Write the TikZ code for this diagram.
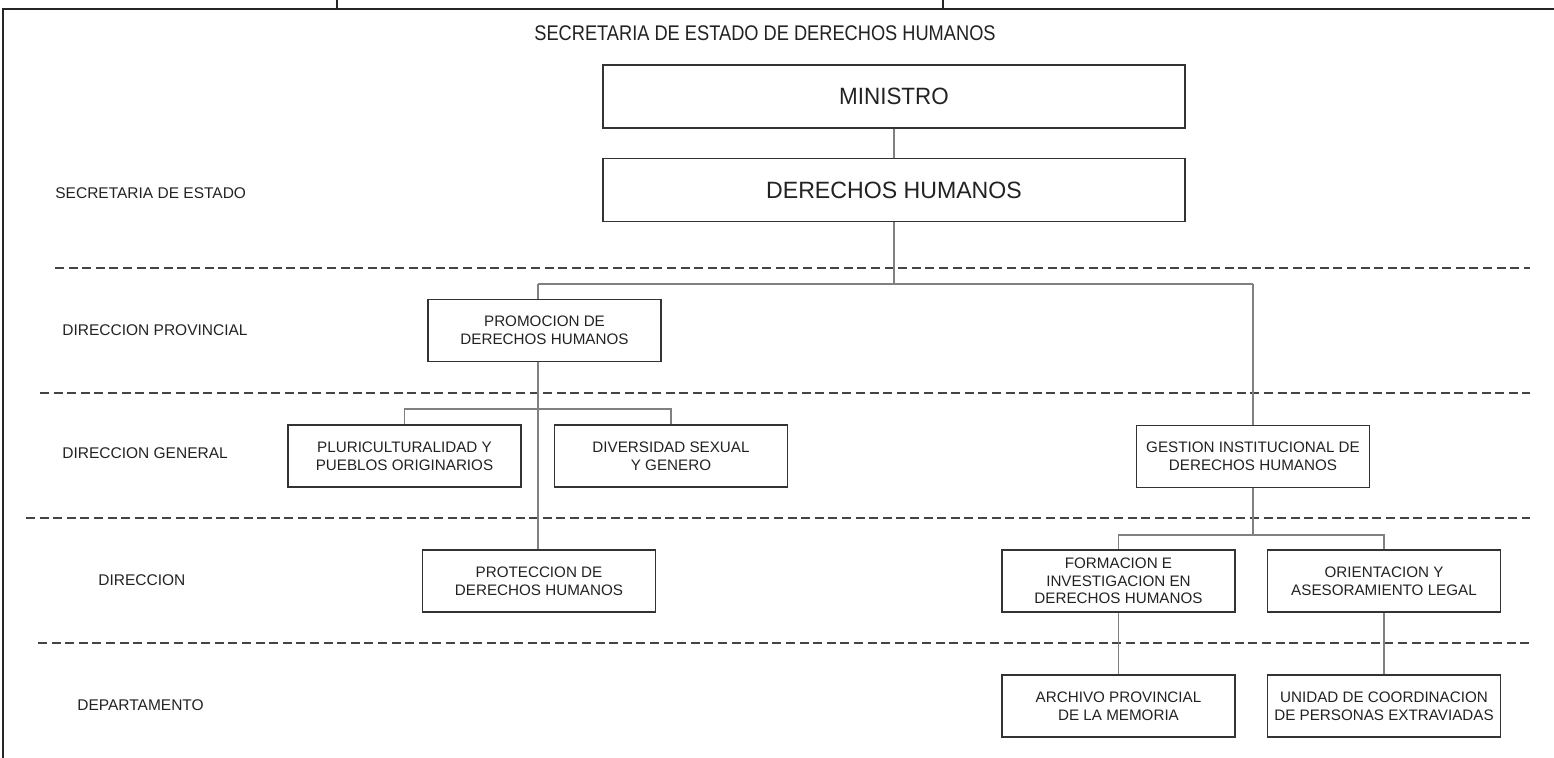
\documentclass[tikz,border=0pt]{standalone}
\usepackage{fontspec}
\setmainfont{Liberation Sans}
\newfontfamily\titlefont[FakeStretch=0.86]{Liberation Sans}
\newfontfamily\bigfont[FakeStretch=0.95]{Liberation Sans}
\newfontfamily\dhfont[FakeStretch=0.98]{Liberation Sans}
\definecolor{ink}{HTML}{222222}
\definecolor{boxc}{HTML}{333333}
\definecolor{conn}{HTML}{808080}
\definecolor{dashc}{HTML}{444444}
\tikzset{
  orgbox/.style={draw=boxc, line width=0.9pt, minimum width=116.5pt, minimum height=31pt,
    inner sep=0pt, align=center, text=ink, font=\fontsize{7.6}{8.8}\selectfont},
  bigbox/.style={draw=boxc, line width=0.9pt, minimum width=291pt, minimum height=31.5pt,
    inner sep=0pt, align=center, text=ink, font=\bigfont\fontsize{11.8}{13}\selectfont},
  levellabel/.style={anchor=west, inner sep=0pt, text=ink, font=\fontsize{7.75}{8.8}\selectfont},
  connector/.style={draw=conn, line width=0.55pt},
  levelline/.style={draw=dashc, line width=0.85pt, dash pattern=on 4.5pt off 2.3pt},
  frameline/.style={draw=black!85, line width=1pt}
}
\begin{document}
\begin{tikzpicture}[x=0.5pt, y=-0.5pt]
\useasboundingbox (0,0) rectangle (1554,758);
% frame
\coordinate (fTL) at (3,9);
\coordinate (fTR) at (1554,9);
\coordinate (fBL) at (3,758);
\coordinate (t1a) at (337,0);
\coordinate (t1b) at (337,9);
\coordinate (t2a) at (943,0);
\coordinate (t2b) at (943,9);
\draw[frameline] (fBL) -- (fTL) -- (fTR);
\draw[frameline] (t1a) -- (t1b);
\draw[frameline] (t2a) -- (t2b);
% title
\node[text=ink, inner sep=0pt, font=\titlefont\fontsize{10.6}{12}\selectfont] (title) at (765,33) {SECRETARIA DE ESTADO DE DERECHOS HUMANOS};
% level dashed lines
\coordinate (d1a) at (55,268);  \coordinate (d1b) at (1530,268);
\coordinate (d2a) at (40,393);  \coordinate (d2b) at (1530,393);
\coordinate (d3a) at (26,518);  \coordinate (d3b) at (1530,518);
\coordinate (d4a) at (38,643);  \coordinate (d4b) at (1530,643);
\draw[levelline] (d1a) -- (d1b);
\draw[levelline] (d2a) -- (d2b);
\draw[levelline] (d3a) -- (d3b);
\draw[levelline] (d4a) -- (d4b);
% level labels
\node[levellabel] (l1) at (55,193) {SECRETARIA DE ESTADO};
\node[levellabel] (l2) at (62,330) {DIRECCION PROVINCIAL};
\node[levellabel] (l3) at (62,453) {DIRECCION GENERAL};
\node[levellabel] (l4) at (98,580) {DIRECCION};
\node[levellabel] (l5) at (77,705) {DEPARTAMENTO};
% boxes
\node[bigbox] (min) at (894,96.5) {MINISTRO};
\node[bigbox, font=\dhfont\fontsize{11.8}{13}\selectfont] (dh) at (894,190) {DERECHOS HUMANOS};
\node[orgbox] (prom) at (544.5,330.5) {PROMOCION DE\\DERECHOS HUMANOS};
\node[orgbox] (pluri) at (404.5,456) {PLURICULTURALIDAD Y\\PUEBLOS ORIGINARIOS};
\node[orgbox] (div) at (671,456) {DIVERSIDAD SEXUAL\\Y GENERO};
\node[orgbox] (gest) at (1253,456.5) {GESTION INSTITUCIONAL DE\\DERECHOS HUMANOS};
\node[orgbox] (prot) at (539,581) {PROTECCION DE\\DERECHOS HUMANOS};
\node[orgbox] (form) at (1118.5,581) {FORMACION E\\INVESTIGACION EN\\DERECHOS HUMANOS};
\node[orgbox] (ori) at (1384,581) {ORIENTACION Y\\ASESORAMIENTO LEGAL};
\node[orgbox] (arch) at (1118.5,706) {ARCHIVO PROVINCIAL\\DE LA MEMORIA};
\node[orgbox] (unid) at (1384,706) {UNIDAD DE COORDINACION\\DE PERSONAS EXTRAVIADAS};
% connectors
\coordinate (b1) at (894,284);
\coordinate (b1L) at (538,284);
\coordinate (b1R) at (1253,284);
\coordinate (b2) at (538,409);
\coordinate (b3) at (1253,535);
\draw[connector] (min) -- (dh);
\draw[connector] (dh.south) -- (b1);
\draw[connector] (b1L) -- (b1R);
\draw[connector] (b1L) -- (prom.north -| b1L);
\draw[connector] (prom.south -| b1L) -- (prot.north -| b1L);
\draw[connector] (pluri.north) |- (b2) -| (div.north);
\draw[connector] (b1R) -- (gest.north);
\draw[connector] (gest.south) -- (b3);
\draw[connector] (form.north) |- (b3) -| (ori.north);
\draw[connector] (form) -- (arch);
\draw[connector] (ori) -- (unid);
\end{tikzpicture}
\end{document}
